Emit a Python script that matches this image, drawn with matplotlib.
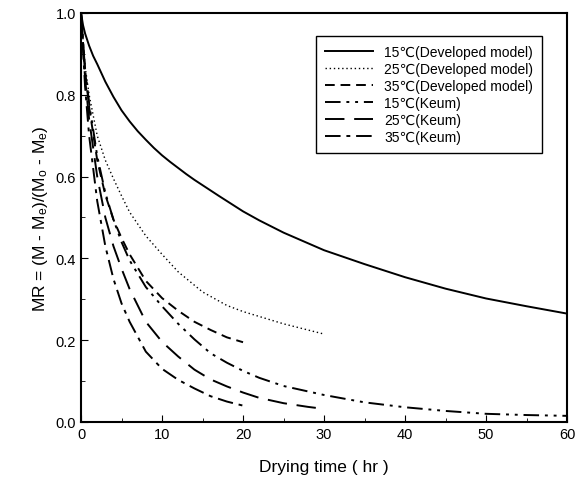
import numpy as np
from matplotlib import pyplot as plt

plt.rcParams['font.family'] = ['Liberation Sans', 'DejaVu Sans']
plt.rcParams['mathtext.fontset'] = 'custom'
plt.rcParams['mathtext.rm'] = 'Liberation Sans'
plt.rcParams['mathtext.it'] = 'Liberation Sans:italic'

# 15 C, developed model
t_15_dev = [0, 0.25, 0.5, 1, 1.5, 2, 3, 4, 5, 6, 7, 8, 9, 10, 11, 12, 13, 14, 15, 17, 20, 22,
            25, 30, 35, 40, 45, 50, 55, 60]
mr_15_dev = [1.0, 0.97, 0.95, 0.92, 0.895, 0.875, 0.832, 0.795, 0.762, 0.735, 0.711, 0.69,
             0.67, 0.652, 0.636, 0.621, 0.606, 0.592, 0.579, 0.553, 0.515, 0.493,
             0.463, 0.42, 0.386, 0.354, 0.326, 0.302, 0.283, 0.265]

# 25 C, developed model
t_25_dev = [0, 0.5, 1, 2, 3, 4, 5, 6, 8, 10, 12, 15, 18, 20, 22, 25, 28, 30]
mr_25_dev = [1.0, 0.87, 0.80, 0.70, 0.64, 0.595, 0.553, 0.513, 0.455, 0.41, 0.367, 0.318,
             0.285, 0.27, 0.258, 0.24, 0.225, 0.215]

# 35 C, developed model
t_35_dev = [0, 0.5, 1, 2, 3, 4, 5, 6, 8, 10, 12, 14, 16, 18, 20]
mr_35_dev = [1.0, 0.86, 0.77, 0.64, 0.555, 0.495, 0.45, 0.41, 0.345, 0.303, 0.272, 0.245,
             0.225, 0.207, 0.195]

# 15 C, Keum
t_15_keum = [0, 0.5, 1, 2, 3, 4, 5, 6, 8, 10, 12, 14, 16, 18, 20, 22, 25, 30, 35, 40, 45, 50, 55, 60]
mr_15_keum = [1.0, 0.86, 0.78, 0.65, 0.56, 0.495, 0.44, 0.395, 0.33, 0.283, 0.24, 0.202,
              0.168, 0.145, 0.125, 0.108, 0.088, 0.066, 0.048, 0.036, 0.027, 0.02, 0.017, 0.015]

# 25 C, Keum
t_25_keum = [0, 0.5, 1, 2, 3, 4, 5, 6, 8, 10, 12, 14, 16, 18, 20, 22, 25, 28, 30]
mr_25_keum = [1.0, 0.84, 0.74, 0.60, 0.50, 0.43, 0.375, 0.325, 0.245, 0.196, 0.16, 0.128,
              0.104, 0.087, 0.072, 0.059, 0.046, 0.037, 0.032]

# 35 C, Keum
t_35_keum = [0, 0.5, 1, 2, 3, 4, 5, 6, 8, 10, 12, 14, 16, 18, 20]
mr_35_keum = [1.0, 0.82, 0.70, 0.54, 0.43, 0.35, 0.29, 0.245, 0.172, 0.13, 0.103, 0.082,
              0.063, 0.05, 0.04]

labels = ['15\u2103(Developed model)', '25\u2103(Developed model)', '35\u2103(Developed model)',
          '15\u2103(Keum)', '25\u2103(Keum)', '35\u2103(Keum)']

fig = plt.figure(figsize=(5.8, 4.81), dpi=100)
ax = fig.add_axes([0.1397, 0.1206, 0.838, 0.8503])

ax.plot(t_15_dev, mr_15_dev, color='k', lw=1.4, ls='-', label=labels[0])
ax.plot(t_25_dev, mr_25_dev, color='k', lw=1.0, ls=(0, (1, 2)), label=labels[1])
ax.plot(t_35_dev, mr_35_dev, color='k', lw=1.4, ls=(0, (5, 3)), label=labels[2])
ax.plot(t_15_keum, mr_15_keum, color='k', lw=1.4, ls=(0, (8, 3, 1.5, 3, 1.5, 3)), label=labels[3])
ax.plot(t_25_keum, mr_25_keum, color='k', lw=1.4, ls=(0, (10, 5)), label=labels[4])
ax.plot(t_35_keum, mr_35_keum, color='k', lw=1.4, ls=(0, (8, 3, 2, 3)), label=labels[5])

ax.set_xlim(0, 60)
ax.set_ylim(0, 1.0)
ax.set_xticks(np.arange(0, 61, 10))
ax.set_xticks(np.arange(0, 61, 5), minor=True)
ax.set_yticks(np.arange(0, 1.01, 0.2))
ax.set_yticks(np.arange(0, 1.01, 0.1), minor=True)
ax.yaxis.set_major_formatter(plt.FormatStrFormatter('%.1f'))
ax.tick_params(which='both', direction='in', labelsize=10.5)
ax.tick_params(which='major', length=5)
ax.tick_params(which='minor', length=3)
for s in ax.spines.values():
    s.set_linewidth(1.5)

ax.set_xlabel('Drying time ( hr )', fontsize=12.5, labelpad=13)
ax.set_ylabel(r'MR = (M - M$_\mathrm{e}$)/(M$_\mathrm{o}$ - M$_\mathrm{e}$)', fontsize=12.5)

leg = ax.legend(loc='upper right', bbox_to_anchor=(0.949, 0.944), fontsize=10,
                handlelength=3.5, handletextpad=0.8, labelspacing=0.22,
                fancybox=False, edgecolor='k', framealpha=1, borderpad=0.65,
                borderaxespad=0)
leg.get_frame().set_linewidth(1.0)

plt.savefig('out.png', dpi=100)
